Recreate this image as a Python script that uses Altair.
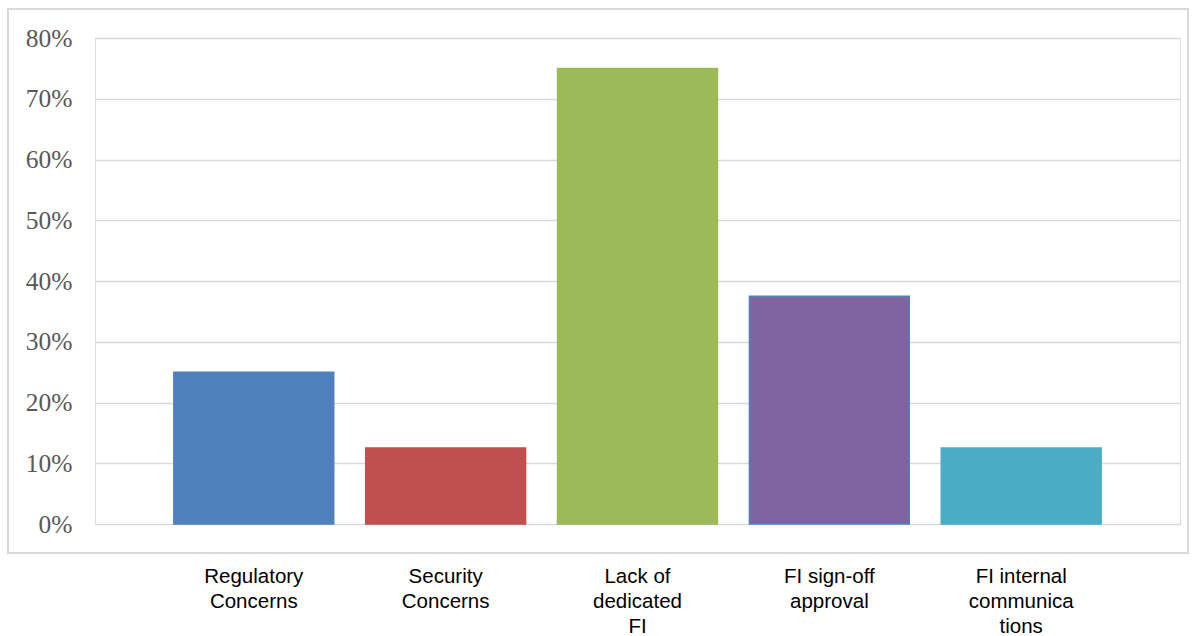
import altair as alt
import pandas as pd

categories = ["Regulatory|Concerns", "Security|Concerns", "Lack of|dedicated|FI",
              "FI sign-off|approval", "FI internal|communica|tions"]
values = [0.25, 0.125, 0.75, 0.375, 0.125]
colors = ["#4f81bd", "#c0504d", "#9bbb59", "#8064a2", "#4bacc6"]
strokes = ["#4f81bd", "#c0504d", "#9bbb59", "#4f81bd", "#4bacc6"]
y_ticks = [0, 0.1, 0.2, 0.3, 0.4, 0.5, 0.6, 0.7, 0.8]

df = pd.DataFrame({"cat": categories, "val": values, "col": colors, "stk": strokes})

W, H = 1085, 486

bars = alt.Chart(df).mark_bar(strokeWidth=1.5).encode(
    x=alt.X("cat:N", sort=categories,
            scale=alt.Scale(paddingInner=0.1667, paddingOuter=0.411),
            axis=alt.Axis(title=None, labelAngle=0, domain=False, ticks=False,
                          labelExpr="split(datum.label, '|')",
                          labelFont="Liberation Sans", labelFontSize=20.5,
                          labelColor="#000000", labelLineHeight=25,
                          labelPadding=42, labelBaseline="top")),
    y=alt.Y("val:Q", scale=alt.Scale(domain=[0, 0.8], nice=False),
            axis=alt.Axis(title=None, format=".0%", values=y_ticks,
                          domain=False, ticks=False, grid=True,
                          gridColor="#d9d9d9", gridWidth=1.5,
                          labelFont="Liberation Serif", labelFontSize=25.5,
                          labelColor="#595959", labelPadding=23)),
    fill=alt.Fill("col:N", scale=None),
    stroke=alt.Stroke("stk:N", scale=None),
)

border = alt.Chart(pd.DataFrame({"a": [0]})).mark_rect(
    fill=None, stroke="#d9d9d9", strokeWidth=2
).encode(
    x=alt.value(-87), x2=alt.value(W + 8),
    y=alt.value(-29), y2=alt.value(H + 29),
)

chart = alt.layer(border, bars).properties(
    width=W, height=H,
    autosize=alt.AutoSizeParams(type="none"),
    padding={"left": 95, "top": 38, "right": 19, "bottom": 112},
).configure_view(stroke=None).configure(background="#ffffff")

chart.save("out.html", embed_options={"renderer": "svg", "actions": False})
